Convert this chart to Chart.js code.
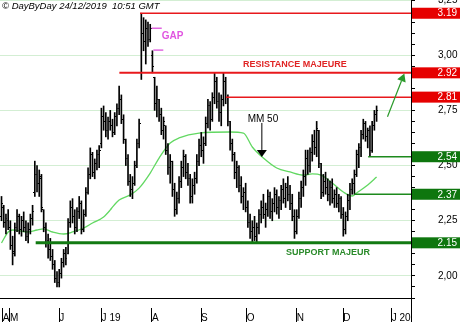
<!DOCTYPE html>
<html>
<head>
<meta charset="utf-8">
<script src="https://cdn.jsdelivr.net/npm/chart.js@4.4.0/dist/chart.umd.min.js"></script>
<style>
  html, body { margin: 0; padding: 0; background: #fff; }
  canvas { display: block; }
</style>
</head>
<body>
<canvas id="chart" width="460" height="322"></canvas>
<script>
/* ── Daily bars (one per trading day, late April → 24 Dec 2019) ── */
const opens = [
  2.27, 2.31, 2.24, 2.25, 2.22, 2.14, 2.11, 2.22, 2.27, 2.21,
  2.25, 2.22, 2.18, 2.21, 2.26, 2.38, 2.46, 2.42, 2.44, 2.30,
  2.22, 2.16, 2.12, 2.09, 2.05, 1.99, 1.97, 2.01, 2.06, 2.10,
  2.10, 2.24, 2.31, 2.27, 2.22, 2.29, 2.33, 2.21, 2.28, 2.38,
  2.46, 2.55, 2.47, 2.51, 2.55, 2.60, 2.72, 2.70, 2.66, 2.70,
  2.68, 2.65, 2.72, 2.76, 2.80, 2.71, 2.62, 2.53, 2.43, 2.39,
  2.42, 2.50, 2.60, 2.92, 3.10, 3.06, 3.12, 3.07, 3.00, 2.90,
  2.78, 2.80, 2.73, 2.66, 2.68, 2.57, 2.49, 2.52, 2.39, 2.30,
  2.35, 2.43, 2.49, 2.54, 2.47, 2.44, 2.36, 2.41, 2.44, 2.52,
  2.59, 2.57, 2.60, 2.69, 2.77, 2.71, 2.81, 2.88, 2.79, 2.74,
  2.80, 2.88, 2.81, 2.70, 2.60, 2.55, 2.47, 2.49, 2.41, 2.36,
  2.38, 2.31, 2.24, 2.20, 2.22, 2.18, 2.22, 2.28, 2.31, 2.28,
  2.30, 2.36, 2.29, 2.33, 2.37, 2.31, 2.34, 2.39, 2.35, 2.40,
  2.37, 2.33, 2.27, 2.20, 2.27, 2.35, 2.40, 2.45, 2.53, 2.50,
  2.56, 2.61, 2.58, 2.66, 2.51, 2.38, 2.43, 2.40, 2.37, 2.40,
  2.35, 2.37, 2.33, 2.35, 2.28, 2.21, 2.27, 2.34, 2.39, 2.42,
  2.46, 2.55, 2.58, 2.64, 2.69, 2.63, 2.66, 2.57, 2.68, 2.73
];
const highs = [
  2.36, 2.32, 2.28, 2.30, 2.25, 2.18, 2.24, 2.30, 2.28, 2.27,
  2.29, 2.25, 2.24, 2.28, 2.32, 2.52, 2.50, 2.48, 2.46, 2.30,
  2.24, 2.19, 2.17, 2.12, 2.07, 2.02, 2.03, 2.08, 2.12, 2.13,
  2.26, 2.34, 2.35, 2.30, 2.31, 2.36, 2.34, 2.30, 2.40, 2.49,
  2.58, 2.56, 2.53, 2.57, 2.59, 2.76, 2.77, 2.74, 2.72, 2.75,
  2.71, 2.74, 2.78, 2.86, 2.82, 2.73, 2.62, 2.55, 2.46, 2.45,
  2.52, 2.62, 2.71, 3.19, 3.17, 3.16, 3.15, 3.14, 3.02, 2.90,
  2.86, 2.80, 2.76, 2.72, 2.68, 2.60, 2.55, 2.52, 2.42, 2.38,
  2.45, 2.52, 2.57, 2.55, 2.51, 2.46, 2.44, 2.47, 2.55, 2.62,
  2.65, 2.63, 2.72, 2.80, 2.79, 2.83, 2.92, 2.90, 2.83, 2.82,
  2.92, 2.90, 2.82, 2.70, 2.62, 2.56, 2.52, 2.50, 2.45, 2.40,
  2.42, 2.34, 2.28, 2.25, 2.27, 2.24, 2.30, 2.34, 2.37, 2.33,
  2.39, 2.38, 2.35, 2.40, 2.39, 2.36, 2.41, 2.44, 2.42, 2.45,
  2.41, 2.37, 2.30, 2.30, 2.38, 2.43, 2.48, 2.57, 2.57, 2.58,
  2.64, 2.66, 2.70, 2.66, 2.51, 2.46, 2.47, 2.44, 2.43, 2.44,
  2.39, 2.40, 2.37, 2.36, 2.31, 2.29, 2.37, 2.42, 2.44, 2.48,
  2.57, 2.60, 2.66, 2.71, 2.70, 2.67, 2.68, 2.70, 2.75, 2.77
];
const lows = [
  2.25, 2.22, 2.19, 2.21, 2.12, 2.05, 2.09, 2.20, 2.19, 2.18,
  2.20, 2.16, 2.15, 2.19, 2.23, 2.36, 2.38, 2.36, 2.29, 2.20,
  2.13, 2.08, 2.07, 2.03, 1.97, 1.95, 1.95, 1.99, 2.04, 2.05,
  2.10, 2.22, 2.24, 2.19, 2.20, 2.26, 2.19, 2.20, 2.27, 2.37,
  2.44, 2.45, 2.44, 2.48, 2.49, 2.58, 2.66, 2.63, 2.62, 2.66,
  2.63, 2.64, 2.68, 2.73, 2.69, 2.60, 2.50, 2.41, 2.36, 2.35,
  2.41, 2.49, 2.58, 2.89, 3.02, 2.96, 3.04, 3.06, 2.92, 2.75,
  2.72, 2.70, 2.64, 2.62, 2.55, 2.46, 2.42, 2.36, 2.27, 2.28,
  2.33, 2.40, 2.45, 2.44, 2.41, 2.33, 2.33, 2.37, 2.42, 2.50,
  2.54, 2.51, 2.59, 2.67, 2.66, 2.70, 2.78, 2.76, 2.70, 2.68,
  2.77, 2.78, 2.68, 2.57, 2.52, 2.44, 2.40, 2.38, 2.33, 2.30,
  2.29, 2.22, 2.17, 2.15, 2.16, 2.15, 2.19, 2.24, 2.26, 2.22,
  2.27, 2.26, 2.25, 2.29, 2.28, 2.26, 2.30, 2.33, 2.31, 2.34,
  2.30, 2.25, 2.17, 2.19, 2.26, 2.31, 2.36, 2.41, 2.46, 2.47,
  2.52, 2.55, 2.54, 2.49, 2.35, 2.36, 2.37, 2.34, 2.32, 2.33,
  2.31, 2.31, 2.29, 2.26, 2.18, 2.19, 2.25, 2.30, 2.37, 2.37,
  2.45, 2.49, 2.54, 2.62, 2.61, 2.58, 2.54, 2.56, 2.66, 2.70
];
const closes = [
  2.33, 2.24, 2.26, 2.22, 2.14, 2.10, 2.22, 2.27, 2.21, 2.25,
  2.22, 2.18, 2.21, 2.26, 2.29, 2.46, 2.42, 2.45, 2.31, 2.22,
  2.15, 2.12, 2.09, 2.05, 1.99, 1.97, 2.01, 2.06, 2.10, 2.08,
  2.24, 2.31, 2.27, 2.22, 2.29, 2.33, 2.21, 2.28, 2.38, 2.46,
  2.55, 2.47, 2.51, 2.55, 2.57, 2.72, 2.70, 2.66, 2.70, 2.68,
  2.65, 2.72, 2.76, 2.80, 2.71, 2.62, 2.53, 2.43, 2.39, 2.42,
  2.50, 2.60, 2.69, 3.10, 3.06, 3.12, 3.07, 3.12, 2.95, 2.78,
  2.80, 2.73, 2.66, 2.70, 2.57, 2.49, 2.52, 2.39, 2.30, 2.35,
  2.43, 2.49, 2.54, 2.47, 2.44, 2.36, 2.41, 2.44, 2.52, 2.59,
  2.57, 2.60, 2.69, 2.77, 2.71, 2.81, 2.88, 2.79, 2.74, 2.80,
  2.88, 2.81, 2.70, 2.60, 2.55, 2.47, 2.49, 2.41, 2.36, 2.38,
  2.31, 2.24, 2.20, 2.22, 2.18, 2.22, 2.28, 2.31, 2.28, 2.30,
  2.36, 2.29, 2.33, 2.37, 2.31, 2.34, 2.39, 2.35, 2.40, 2.37,
  2.33, 2.27, 2.20, 2.27, 2.35, 2.40, 2.45, 2.53, 2.50, 2.56,
  2.61, 2.58, 2.67, 2.51, 2.38, 2.43, 2.40, 2.37, 2.40, 2.35,
  2.37, 2.33, 2.35, 2.28, 2.21, 2.27, 2.34, 2.39, 2.42, 2.46,
  2.55, 2.58, 2.64, 2.69, 2.63, 2.66, 2.57, 2.68, 2.73, 2.75
];

/* ── MM 50 (moving average), read at bar positions ── */
const maIdx = [0, 3, 5, 12, 16, 19, 23, 28, 32, 37, 41, 46, 49, 50, 53, 58, 62, 67, 71, 76,
               80, 89, 103, 109, 113, 118, 124, 130, 136, 140, 144, 149, 154, 158, 160, 165, 169];
const maVal = [2.149, 2.199, 2.208, 2.199, 2.208, 2.213, 2.199, 2.190, 2.199, 2.217,
               2.240, 2.267, 2.299, 2.312, 2.344, 2.367, 2.398, 2.466, 2.534, 2.602,
               2.625, 2.647, 2.652, 2.647, 2.584, 2.534, 2.489, 2.471, 2.457, 2.462,
               2.457, 2.421, 2.380, 2.362, 2.376, 2.412, 2.448];

/* ── Month ticks on the date axis ── */
const monthPos    = [0.55, 3.8, 26.0, 45.1, 67.8, 89.9, 110.5, 133.0, 154.0, 175.8];
const monthLabels = ['A', 'M', 'J', 'J 19', 'A', 'S', 'O', 'N', 'D', 'J 20'];

/* ── Price axis ticks (labels every 0,25) ── */
const priceTicks = [1.90, 1.95, 2.00, 2.05, 2.10, 2.15, 2.20, 2.25, 2.30, 2.35,
                    2.40, 2.45, 2.50, 2.55, 2.60, 2.65, 2.70, 2.75, 2.80, 2.85,
                    2.90, 2.95, 3.00, 3.05, 3.10, 3.15, 3.20, 3.25];
const priceLabels = ['2,00', '2,25', '2,50', '2,75', '3,00', '3,25'];

/* ── Horizontal levels (resistance / support) ── */
const levels     = [3.19, 2.92, 2.81, 2.54, 2.37, 2.15];
const levelFrom  = [62.4, 53.1, 101.1, 165.2, 158.9, 15.4];

/* ── Gap marks ── */
const gapLevels = [3.122, 3.023];
const gapFrom   = [67.6, 68.4];
const gapTo     = [72.2, 72.9];

/* ── Notes and arrows (data units) ── */
const noteText = ['RESISTANCE MAJEURE', 'SUPPORT MAJEUR', 'MM 50', 'GAP'];
const noteAt   = [[132.2, 2.956], [147.1, 2.104], [117.8, 2.709], [72.2, 3.084]];
const arrowFrom = [[117.3, 2.693], [173.9, 2.721]];
const arrowTo   = [[117.3, 2.539], [181.5, 2.917]];

const X_MIN = -0.68, X_MAX = 184.5;

const RED = '#e8191c';
const GREEN = '#1d8a1d';
const DARK_GREEN = '#127a12';
const levelColor = [RED, RED, RED, GREEN, GREEN, DARK_GREEN];
const levelWidth = [1.5, 2, 1.5, 1.5, 1.5, 3];

Chart.defaults.font.family = 'Arial, "Liberation Sans", sans-serif';
Chart.defaults.font.size = 10;
Chart.defaults.color = '#000';

// small tick images for open (left) and close (right)
function tickImage(left) {
  const c = document.createElement('canvas');
  c.width = 3; c.height = 1;
  const g = c.getContext('2d');
  g.fillStyle = '#000';
  g.fillRect(left ? 0 : 2, 0, 1, 1);
  return c;
}
const openTick = tickImage(true);
const closeTick = tickImage(false);

const isMajor = v => Math.abs(v * 4 - Math.round(v * 4)) < 1e-6;

function drawArrow(ctx, x1, y1, x2, y2, head, halfW, color, width) {
  const a = Math.atan2(y2 - y1, x2 - x1);
  const bx = x2 - Math.cos(a) * head, by = y2 - Math.sin(a) * head;
  ctx.strokeStyle = color;
  ctx.lineWidth = width;
  ctx.beginPath();
  ctx.moveTo(x1, y1);
  ctx.lineTo(bx, by);
  ctx.stroke();
  ctx.fillStyle = color;
  ctx.beginPath();
  ctx.moveTo(x2, y2);
  ctx.lineTo(bx - Math.sin(a) * halfW, by + Math.cos(a) * halfW);
  ctx.lineTo(bx + Math.sin(a) * halfW, by - Math.cos(a) * halfW);
  ctx.closePath();
  ctx.fill();
}

const annotations = {
  id: 'annotations',
  afterDatasetsDraw(chart) {
    const { ctx, scales: { x, y } } = chart;
    ctx.save();
    const noteStyle = [
      { font: 'bold 9px Arial', color: '#e02424', align: 'center' },
      { font: 'bold 9px Arial', color: '#2a8a2a', align: 'center' },
      { font: '10px Arial', color: '#000', align: 'center' },
      { font: 'bold 10px Arial', color: '#e055e0', align: 'left' }
    ];
    ctx.textBaseline = 'middle';
    noteText.forEach((t, k) => {
      const s = noteStyle[k];
      ctx.font = s.font;
      ctx.fillStyle = s.color;
      ctx.textAlign = s.align;
      ctx.fillText(t, x.getPixelForValue(noteAt[k][0]), y.getPixelForValue(noteAt[k][1]));
    });
    const arrowStyle = [
      { color: '#000', width: 1, head: 7, halfW: 5 },
      { color: '#2a9a2a', width: 1.2, head: 8, halfW: 4.5 }
    ];
    arrowFrom.forEach((p, k) => {
      const s = arrowStyle[k];
      drawArrow(ctx,
        x.getPixelForValue(p[0]), y.getPixelForValue(p[1]),
        x.getPixelForValue(arrowTo[k][0]), y.getPixelForValue(arrowTo[k][1]),
        s.head, s.halfW, s.color, s.width);
    });
    ctx.restore();
  },
  afterDraw(chart) {
    const { ctx, chartArea, scales: { y } } = chart;
    ctx.save();
    // axis line continues through the date strip
    ctx.strokeStyle = '#000';
    ctx.lineWidth = 1;
    ctx.beginPath();
    ctx.moveTo(chartArea.right + 0.5, chartArea.bottom);
    ctx.lineTo(chartArea.right + 0.5, chart.height);
    ctx.stroke();
    // level labels
    ctx.font = '10px Arial';
    ctx.textAlign = 'right';
    ctx.textBaseline = 'middle';
    levels.forEach((lv, k) => {
      const py = y.getPixelForValue(lv);
      ctx.fillStyle = k < 3 ? '#e60000' : '#0e760e';
      ctx.fillRect(chartArea.right + 1, py - 5.5, chart.width - chartArea.right - 1, 11);
      ctx.fillStyle = '#fff';
      ctx.fillText(lv.toFixed(2), chart.width - 3, py + 0.5);
    });
    // header
    ctx.font = 'italic 9.5px Arial';
    ctx.textAlign = 'left';
    ctx.fillStyle = '#000';
    ctx.fillText('\u00a9 DayByDay 24/12/2019  10:51 GMT', 2, 6);
    ctx.restore();
  }
};

const levelSets = levels.map((lv, k) => ({
  type: 'line',
  data: [{ x: levelFrom[k], y: lv }, { x: X_MAX, y: lv }],
  borderColor: levelColor[k],
  borderWidth: levelWidth[k],
  pointRadius: 0,
  pointHoverRadius: 0,
  order: 0
}));
const gapSets = gapLevels.map((lv, k) => ({
  type: 'line',
  data: [{ x: gapFrom[k], y: lv }, { x: gapTo[k], y: lv }],
  borderColor: '#e066e0',
  borderWidth: 1.5,
  pointRadius: 0,
  pointHoverRadius: 0,
  order: 0
}));

new Chart(document.getElementById('chart'), {
  type: 'bar',
  data: {
    datasets: [
      ...levelSets,
      ...gapSets,
      {
        type: 'line',
        data: opens.map((v, i) => ({ x: i, y: v })),
        showLine: false,
        pointStyle: openTick,
        pointRadius: 1,
        pointHoverRadius: 1,
        order: 2
      },
      {
        type: 'line',
        data: closes.map((v, i) => ({ x: i, y: v })),
        showLine: false,
        pointStyle: closeTick,
        pointRadius: 1,
        pointHoverRadius: 1,
        order: 2
      },
      {
        type: 'bar',
        data: lows.map((v, i) => ({ x: i, y: [v, highs[i]] })),
        backgroundColor: '#000',
        barThickness: 1,
        grouped: false,
        order: 3
      },
      {
        type: 'line',
        data: maIdx.map((v, k) => ({ x: v, y: maVal[k] })),
        borderColor: '#62d862',
        borderWidth: 1.3,
        pointRadius: 0,
        pointHoverRadius: 0,
        cubicInterpolationMode: 'monotone',
        order: 4
      }
    ]
  },
  options: {
    responsive: false,
    animation: false,
    events: [],
    layout: { padding: 0, autoPadding: false },
    plugins: { legend: { display: false }, tooltip: { enabled: false } },
    scales: {
      x: {
        type: 'linear',
        position: 'bottom',
        min: X_MIN,
        max: X_MAX,
        offset: false,
        afterBuildTicks: s => { s.ticks = monthPos.map(v => ({ value: v })); },
        afterFit: s => {
          s.height = 24;
          s.paddingLeft = 0; s.paddingRight = 0; s.paddingTop = 0; s.paddingBottom = 0;
        },
        grid: {
          offset: false,
          drawOnChartArea: false,
          tickLength: 24,
          tickColor: '#000',
          tickBorderDash: [0, 9, 15, 0]
        },
        border: { color: '#000' },
        ticks: {
          autoSkip: false,
          maxRotation: 0,
          align: 'start',
          padding: -10,
          color: '#000',
          font: { size: 10 },
          callback: (v, i) => monthLabels[i]
        }
      },
      y: {
        type: 'linear',
        position: 'right',
        min: 1.9,
        max: 3.25,
        afterBuildTicks: s => { s.ticks = priceTicks.map(v => ({ value: v })); },
        afterFit: s => {
          s.width = 49;
          s.paddingLeft = 0; s.paddingRight = 0; s.paddingTop = 0; s.paddingBottom = 0;
        },
        grid: {
          color: c => (c.tick && isMajor(c.tick.value) ? '#d3eed3' : 'rgba(0,0,0,0)'),
          tickColor: '#000',
          tickLength: 4
        },
        border: { color: '#000' },
        ticks: {
          autoSkip: false,
          padding: 23,
          color: '#000',
          font: { size: 10 },
          callback: v => (isMajor(v) ? priceLabels[Math.round((v - 2) * 4)] : '')
        }
      }
    }
  },
  plugins: [annotations]
});
</script>
</body>
</html>
